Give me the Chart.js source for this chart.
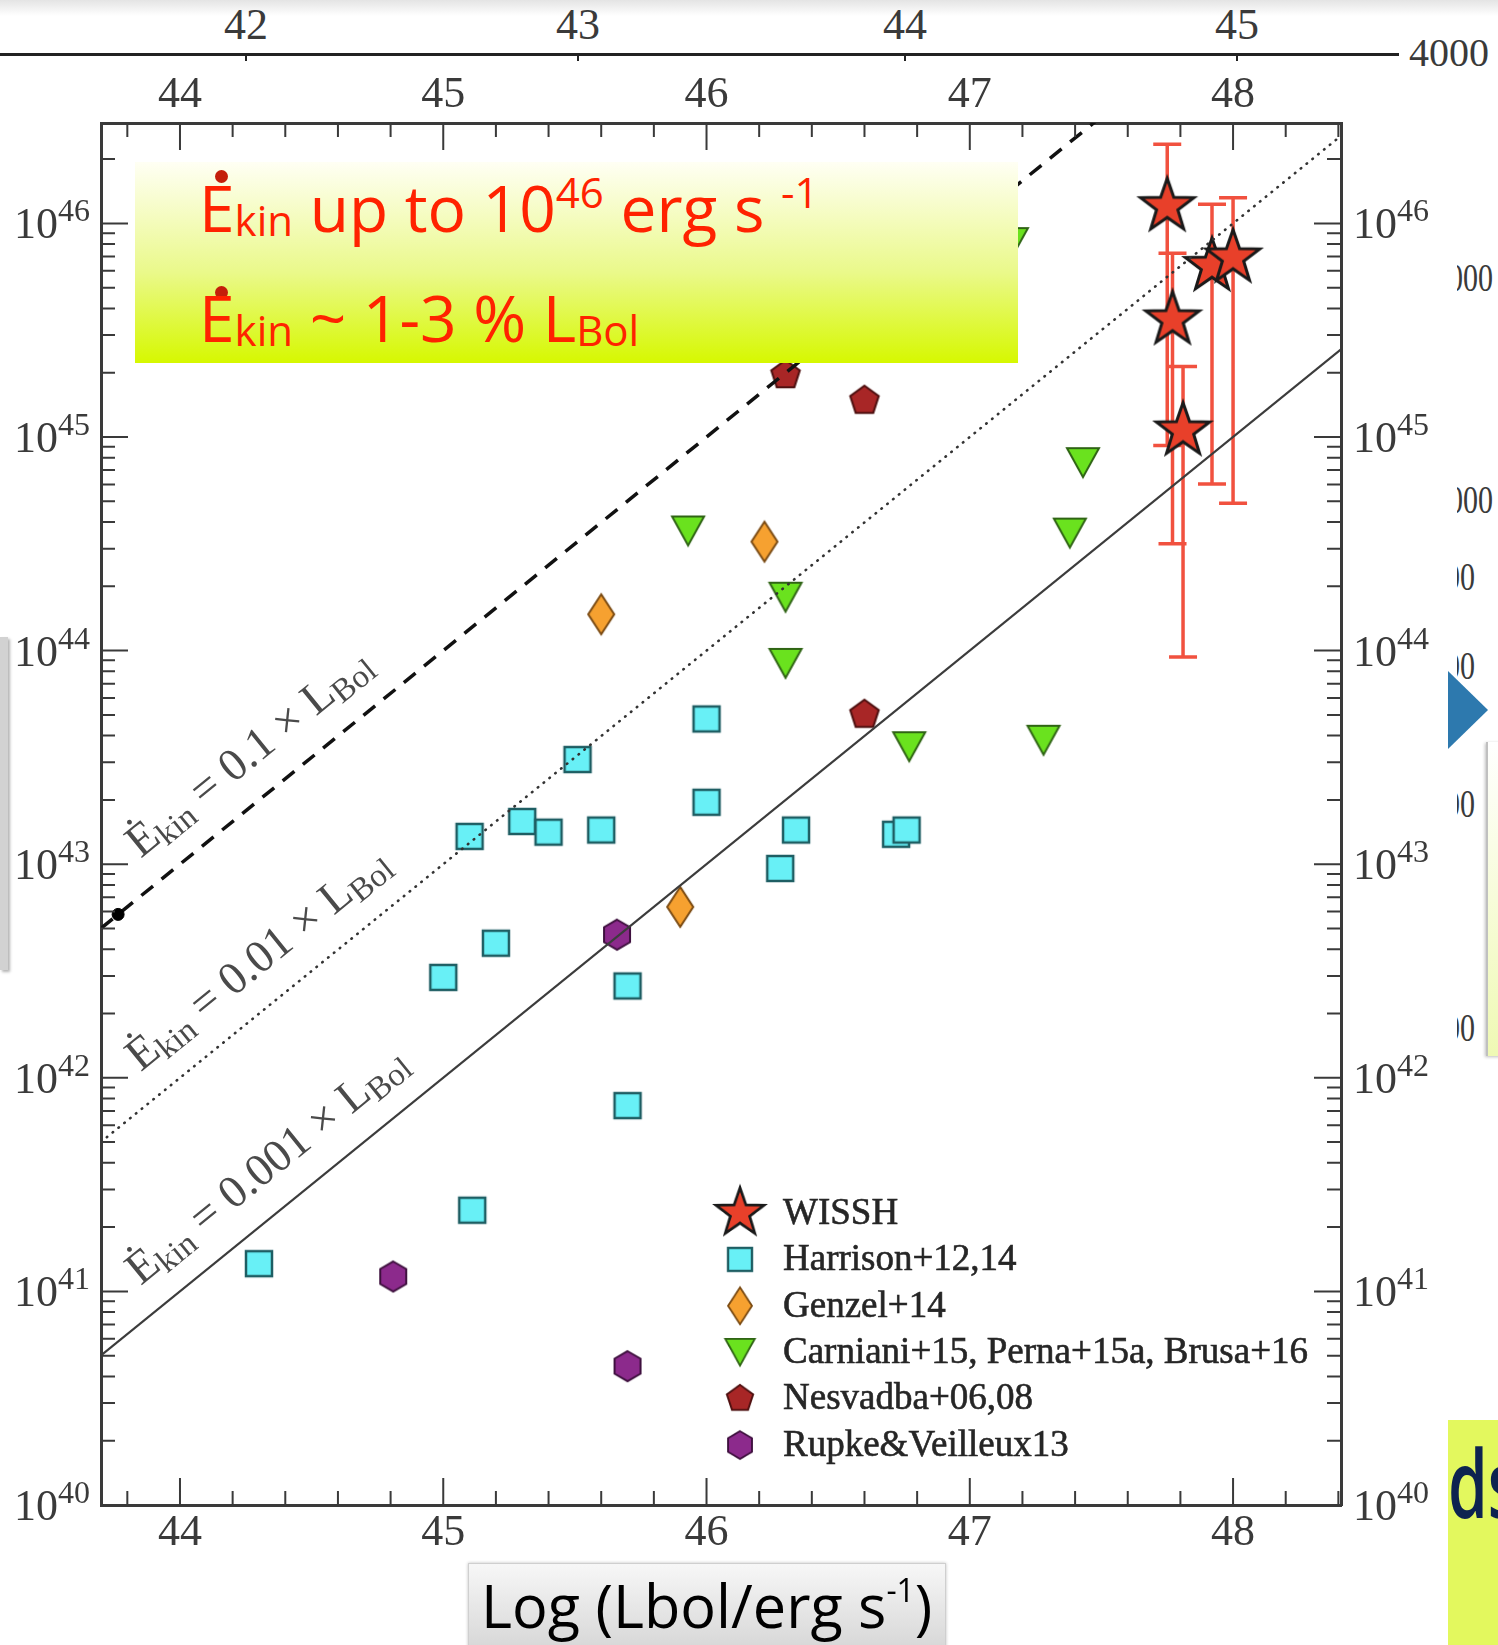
<!DOCTYPE html>
<html>
<head>
<meta charset="utf-8">
<title>Ekin vs Lbol</title>
<script src="https://cdn.jsdelivr.net/npm/chart.js@4.4.0/dist/chart.umd.min.js"></script>
<style>
	html, body { margin: 0; padding: 0; background: #fff; }
	body { width: 1498px; height: 1645px; position: relative; overflow: hidden; font-family: 'Liberation Serif', serif; }
	#myCanvas { position: absolute; left: 0; top: 0; z-index: 1; }
	.abs { position: absolute; }
	.over { z-index: 2; }
	#topStrip { left: 0; top: 0; width: 1498px; height: 16px; background: linear-gradient(#e4e4e4, #fff); }
	#slideAxis { left: 0; top: 53px; width: 1399px; height: 3px; background: #222; }
	.slideTick { top: 55px; width: 2px; height: 6px; background: #222; }
	.slideLbl { width: 100px; text-align: center; font-size: 44px; line-height: 44px; color: #3a3a3a; }
	.cut { left: 1457px; width: 41px; height: 44px; overflow: hidden; font-size: 40px; line-height: 40px; color: #3a3a3a; }
	.cut span { position: absolute; top: 0; transform: scaleX(0.75); transform-origin: left; white-space: nowrap; }
	#note { left: 135px; top: 162px; width: 883px; height: 201px; background: linear-gradient(#fffff4, #eaf98a 55%, #d6f800); }
	#note .row { position: absolute; left: 64px; font-family: 'Open Sans', sans-serif; font-size: 64px; line-height: 64px; color: #ff2200; white-space: nowrap; }
	#note .row span { line-height: 0; font-size: 42px; }
	#note .dot { position: absolute; width: 13px; height: 13px; border-radius: 50%; background: #c41e0a; }
	#xTitle { left: 468px; top: 1563px; width: 476px; height: 90px; background: linear-gradient(#f7f7f7, #d5d5d5); border: 1px solid #cfcfcf; box-shadow: 0 0 3px rgba(0,0,0,0.25); }
	#xTitle div { position: absolute; left: 12px; top: 11px; font-family: 'Open Sans', sans-serif; font-size: 60px; line-height: 60px; color: #000; white-space: nowrap; transform: scaleX(0.99); transform-origin: left; }
	#xTitle span { font-size: 32px; line-height: 0; vertical-align: 26px; }
	#leftTab { left: 0; top: 637px; width: 8px; height: 333px; background: #d2d2d2; box-shadow: 2px 2px 3px rgba(0,0,0,0.3); }
	#arrow { left: 1448px; top: 671px; width: 0; height: 0; border-left: 40px solid #2d79ae; border-top: 39px solid transparent; border-bottom: 39px solid transparent; }
	#sideBox { left: 1486px; top: 742px; width: 14px; height: 314px; background: linear-gradient(#fff, #eff9b4); border-left: 2px solid #c0c0c0; box-shadow: -1px 1px 3px rgba(0,0,0,0.25); }
	#dsBox { left: 1448px; top: 1420px; width: 50px; height: 225px; background: #e3f85e; overflow: hidden; }
	#dsBox div { position: absolute; left: 0; top: 15px; font-family: 'Open Sans', sans-serif; font-weight: 600; font-size: 94px; line-height: 94px; color: #0d2350; transform: scaleX(0.68); transform-origin: left; }
</style>
</head>
<body>

<div id="topStrip" class="abs"></div>
<div id="slideAxis" class="abs"></div>
<div class="abs slideTick" style="left:245px"></div>
<div class="abs slideTick" style="left:577px"></div>
<div class="abs slideTick" style="left:904px"></div>
<div class="abs slideTick" style="left:1236px"></div>
<div class="abs slideLbl" style="left:196px;top:3px">42</div>
<div class="abs slideLbl" style="left:528px;top:3px">43</div>
<div class="abs slideLbl" style="left:855px;top:3px">44</div>
<div class="abs slideLbl" style="left:1187px;top:3px">45</div>
<div class="abs" style="left:1409px;top:33px;font-size:40px;line-height:40px;color:#3a3a3a">4000</div>

<div class="abs cut" style="top:258px"><span style="left:-9px">000</span></div>
<div class="abs cut" style="top:480px"><span style="left:-9px">000</span></div>
<div class="abs cut" style="top:557px"><span style="left:-12px">00</span></div>
<div class="abs cut" style="top:646px"><span style="left:-12px">00</span></div>
<div class="abs cut" style="top:784px"><span style="left:-12px">00</span></div>
<div class="abs cut" style="top:1008px"><span style="left:-12px">00</span></div>
<div id="arrow" class="abs"></div>
<div id="sideBox" class="abs"></div>
<div id="dsBox" class="abs"><div>ds</div></div>
<div id="leftTab" class="abs"></div>

<canvas id="myCanvas" width="1498" height="1645"></canvas>

<div id="note" class="abs over">
	<div class="dot" style="left:80px;top:8px"></div>
	<div class="row" style="top:14px">E<span style="vertical-align:-4px">kin</span> up to 10<span style="vertical-align:24px">46</span> erg s <span style="vertical-align:24px">-1</span></div>
	<div class="dot" style="left:80px;top:124px"></div>
	<div class="row" style="top:124px">E<span style="vertical-align:-4px">kin</span> ~ 1-3 % L<span style="vertical-align:-4px">Bol</span></div>
</div>

<div id="xTitle" class="abs over"><div>Log (Lbol/erg s<span>-1</span>)</div></div>

<script>
'use strict';

// all values are log10 (erg/s): x = Lbol, y = Ekin
let wisshL   = [47.75, 47.92, 48.00, 47.77, 47.81];
let wisshE   = [46.08, 45.80, 45.84, 45.55, 45.03];
let wisshElo = [44.96, 44.78, 44.69, 44.50, 43.97];
let wisshEhi = [46.37, 46.09, 46.12, 45.86, 45.33];

let harrisonL = [44.30, 45.11, 45.00, 45.20, 45.10, 45.30, 45.40, 45.51, 45.60, 45.70, 45.70, 46.00, 46.00, 46.28, 46.34, 46.72, 46.76];
let harrisonE = [41.13, 41.38, 42.47, 42.63, 43.13, 43.20, 43.15, 43.49, 43.16, 42.43, 41.87, 43.68, 43.29, 42.98, 43.16, 43.14, 43.16];

let genzelL = [45.60, 46.22, 45.90];
let genzelE = [44.17, 44.51, 42.80];

let carnianiL = [45.93, 46.30, 46.30, 46.77, 47.28, 47.38, 47.43, 47.16];
let carnianiE = [44.56, 44.25, 43.94, 43.55, 43.58, 44.55, 44.88, 45.91];

let nesvadbaL = [46.30, 46.60, 46.60];
let nesvadbaE = [45.29, 45.17, 43.70];

let rupkeL = [44.81, 45.66, 45.70];
let rupkeE = [41.07, 42.67, 40.65];

// Ekin = ratio x Lbol reference lines
let ratios = [0.1, 0.01, 0.001];
let ratioText = ['0.1', '0.01', '0.001'];
let lineEnds = [43.7, 48.41];
let dotL = [43.765];

let xMajor = [44, 45, 46, 47, 48];
let yMajor = [40, 41, 42, 43, 44, 45, 46];
let xMin = 43.7, xMax = 48.41;
let yMin = 40, yMax = 46.47;

let frameColor = '#3a3a3a';
let tickFont = "44px 'Liberation Serif'";
let supFont = "32px 'Liberation Serif'";

function pts(xs, ys) {
	return xs.map(function(v, i) { return {x: v, y: Math.pow(10, ys[i])}; });
}

// filled marker drawn once on a small canvas and used as pointStyle
function marker(shape, w, h, fill, stroke, lw) {
	let c = document.createElement('canvas');
	let pad = Math.ceil(lw) + 2;
	c.width = w + pad * 2;
	c.height = h + pad * 2;
	let g = c.getContext('2d');
	g.translate(c.width / 2, c.height / 2);
	g.beginPath();
	if (shape == 'square') {
		g.rect(-w / 2, -h / 2, w, h);
	} else if (shape == 'diamond') {
		g.moveTo(0, -h / 2); g.lineTo(w / 2, 0); g.lineTo(0, h / 2); g.lineTo(-w / 2, 0);
	} else if (shape == 'tridown') {
		g.moveTo(-w / 2, -h / 2); g.lineTo(w / 2, -h / 2); g.lineTo(0, h / 2);
	} else {
		let n = shape == 'star' ? 10 : (shape == 'pentagon' ? 5 : 6);
		for (let i = 0; i < n; i++) {
			let a = -Math.PI / 2 + i * 2 * Math.PI / n;
			let r = (shape == 'star' && i % 2) ? w / 2 * 0.4 : w / 2;
			if (i == 0) g.moveTo(r * Math.cos(a), r * Math.sin(a));
			else g.lineTo(r * Math.cos(a), r * Math.sin(a));
		}
	}
	g.closePath();
	g.fillStyle = fill;
	g.fill();
	g.lineJoin = 'miter';
	g.lineWidth = lw;
	g.strokeStyle = stroke;
	g.stroke();
	return c;
}

let starMark = marker('star', 56, 56, '#e8402a', '#1a1a1a', 3);
let squareMark = marker('square', 26, 25, '#68f0f6', '#1e5e63', 2.5);
let diamondMark = marker('diamond', 26, 40, '#f6a130', '#7a4a12', 2);
let triMark = marker('tridown', 32, 29, '#6ae21e', '#2f6414', 2);
let pentMark = marker('pentagon', 30, 30, '#a82626', '#4e1010', 2);
let hexMark = marker('hexagon', 30, 30, '#8c2a8c', '#3e103e', 2);

function scatterSet(label, xs, ys, mark) {
	return {
		label: label,
		data: pts(xs, ys),
		pointStyle: mark,
		pointRadius: 12,
		showLine: false
	};
}

function ratioLine(r, dash, color, width, cap) {
	return {
		label: 'ratio ' + r,
		data: lineEnds.map(function(v) { return {x: v, y: r * Math.pow(10, v)}; }),
		showLine: true,
		pointRadius: 0,
		borderColor: color,
		borderWidth: width,
		borderDash: dash,
		borderCapStyle: cap || 'butt',
		order: -1
	};
}

// red error bars behind the WISSH stars
const errorBars = {
	id: 'errorBars',
	beforeDatasetsDraw(chart) {
		let ctx = chart.ctx;
		let sx = chart.scales.x, sy = chart.scales.y;
		ctx.save();
		ctx.strokeStyle = '#f1513f';
		ctx.lineWidth = 3.5;
		ctx.beginPath();
		wisshL.forEach(function(l, i) {
			let px = sx.getPixelForValue(l);
			let top = sy.getPixelForValue(Math.pow(10, wisshEhi[i]));
			let bot = sy.getPixelForValue(Math.pow(10, wisshElo[i]));
			ctx.moveTo(px, top); ctx.lineTo(px, bot);
			ctx.moveTo(px - 14, top); ctx.lineTo(px + 14, top);
			ctx.moveTo(px - 14, bot); ctx.lineTo(px + 14, bot);
		});
		ctx.stroke();
		ctx.restore();
	}
};

// text drawn as runs of [string, size, baseline shift]
function drawRuns(ctx, runs) {
	let x = 0;
	runs.forEach(function(r) {
		ctx.font = r[1] + "px 'Liberation Serif'";
		ctx.fillText(r[0], x, r[2]);
		x += ctx.measureText(r[0]).width;
	});
}

const lineLabels = {
	id: 'lineLabels',
	afterDatasetsDraw(chart) {
		let ctx = chart.ctx;
		let sx = chart.scales.x, sy = chart.scales.y;
		ratios.forEach(function(r, i) {
			let x0 = sx.getPixelForValue(43.92), y0 = sy.getPixelForValue(r * Math.pow(10, 43.92));
			let x1 = sx.getPixelForValue(47), y1 = sy.getPixelForValue(r * Math.pow(10, 47));
			ctx.save();
			ctx.fillStyle = '#4a4a4a';
			ctx.textBaseline = 'alphabetic';
			ctx.translate(x0, y0);
			ctx.rotate(Math.atan2(y1 - y0, x1 - x0));
			ctx.translate(0, -29);
			drawRuns(ctx, [['\u0116', 46, 0], ['kin', 33, 7], [' = ', 46, 0], [ratioText[i], 46, 0],
				[' \u00d7 ', 46, 0], ['L', 46, 0], ['Bol', 33, 7]]);
			ctx.restore();
		});
	}
};

// inward ticks on all four sides plus the tick labels
const frameTicks = {
	id: 'frameTicks',
	afterDraw(chart) {
		let ctx = chart.ctx, a = chart.chartArea;
		let sx = chart.scales.x, sy = chart.scales.y;
		ctx.save();
		ctx.strokeStyle = frameColor;
		ctx.lineWidth = 2;
		ctx.beginPath();
		for (let i = 219; i <= 242; i++) {
			let px = sx.getPixelForValue(i / 5);
			let len = i % 5 == 0 ? 27 : 14;
			ctx.moveTo(px, a.bottom); ctx.lineTo(px, a.bottom - len);
			ctx.moveTo(px, a.top); ctx.lineTo(px, a.top + len);
		}
		for (let d = yMin; d <= 46; d++) {
			for (let m = 1; m <= 9; m++) {
				let v = m * Math.pow(10, d);
				if (v > Math.pow(10, yMax)) break;
				let py = sy.getPixelForValue(v);
				let len = m == 1 ? 27 : 14;
				ctx.moveTo(a.left, py); ctx.lineTo(a.left + len, py);
				ctx.moveTo(a.right, py); ctx.lineTo(a.right - len, py);
			}
		}
		ctx.stroke();

		ctx.fillStyle = frameColor;
		ctx.font = tickFont;
		ctx.textAlign = 'center';
		ctx.textBaseline = 'middle';
		xMajor.forEach(function(v) {
			let px = sx.getPixelForValue(v);
			ctx.fillText(String(v), px, 1533);
			ctx.fillText(String(v), px, 95);
		});

		ctx.textAlign = 'left';
		ctx.textBaseline = 'alphabetic';
		yMajor.forEach(function(d) {
			let py = sy.getPixelForValue(Math.pow(10, d));
			ctx.font = supFont;
			let ws = ctx.measureText(String(d)).width;
			ctx.font = tickFont;
			let wb = ctx.measureText('10').width;
			// left side, right-aligned against the axis
			ctx.font = tickFont;
			ctx.fillText('10', 90 - ws - wb, py + 15);
			ctx.font = supFont;
			ctx.fillText(String(d), 90 - ws, py - 2);
			// right side
			ctx.font = tickFont;
			ctx.fillText('10', 1353, py + 15);
			ctx.font = supFont;
			ctx.fillText(String(d), 1353 + wb, py - 2);
		});
		ctx.restore();
	}
};

// legend in the lower right corner of the plot
const legendBox = {
	id: 'legendBox',
	afterDraw(chart) {
		let ctx = chart.ctx;
		ctx.save();
		ctx.fillStyle = '#262626';
		ctx.strokeStyle = '#262626';
		ctx.lineWidth = 0.6;
		ctx.font = "37px 'Liberation Serif'";
		ctx.textBaseline = 'middle';
		chart.data.datasets.slice(0, 6).forEach(function(ds, i) {
			let y = 1213 + i * 46.4;
			let img = ds.pointStyle;
			let s = i == 0 ? 0.9 : 0.92;
			ctx.drawImage(img, 740 - img.width * s / 2, y - img.height * s / 2, img.width * s, img.height * s);
			ctx.fillText(ds.label, 783, y + 1);
			ctx.strokeText(ds.label, 783, y + 1);
		});
		ctx.restore();
	}
};

let datasets = [
	scatterSet('WISSH', wisshL, wisshE, starMark),
	scatterSet('Harrison+12,14', harrisonL, harrisonE, squareMark),
	scatterSet('Genzel+14', genzelL, genzelE, diamondMark),
	scatterSet('Carniani+15, Perna+15a, Brusa+16', carnianiL, carnianiE, triMark),
	scatterSet('Nesvadba+06,08', nesvadbaL, nesvadbaE, pentMark),
	scatterSet('Rupke\u0026Veilleux13', rupkeL, rupkeE, hexMark),
	ratioLine(0.1, [15, 11], '#111', 3.5),
	ratioLine(0.01, [0.5, 7], '#333', 2.6, 'round'),
	ratioLine(0.001, [], '#3c3c3c', 2.2),
	{
		label: 'dot',
		data: dotL.map(function(v) { return {x: v, y: 0.1 * Math.pow(10, v)}; }),
		pointRadius: 6,
		pointBackgroundColor: '#000',
		pointBorderColor: '#000',
		order: -2
	}
];

function sideAxis(pos, size, isLog) {
	let ax = {
		type: isLog ? 'logarithmic' : 'linear',
		position: pos,
		min: isLog ? Math.pow(10, yMin) : xMin,
		max: isLog ? Math.pow(10, yMax) : xMax,
		ticks: {display: false},
		grid: {display: false, drawTicks: false},
		border: {display: true, color: frameColor, width: 3}
	};
	if (pos == 'top' || pos == 'bottom') ax.afterFit = function(s) { s.height = size; };
	else ax.afterFit = function(s) { s.width = size; };
	return ax;
}

let myChart = document.getElementById('myCanvas').getContext('2d');
let myScatter = new Chart(myChart, {
	type: 'scatter',
	data: {datasets: datasets},
	options: {
		responsive: false,
		animation: false,
		devicePixelRatio: 1,
		layout: {padding: 0},
		plugins: {legend: {display: false}, tooltip: {enabled: false}},
		scales: {
			x: sideAxis('bottom', 140, false),
			xTop: sideAxis('top', 123, false),
			y: sideAxis('left', 101, true),
			yRight: sideAxis('right', 157, true)
		}
	},
	plugins: [errorBars, lineLabels, frameTicks, legendBox]
});
</script>
</body>
</html>
